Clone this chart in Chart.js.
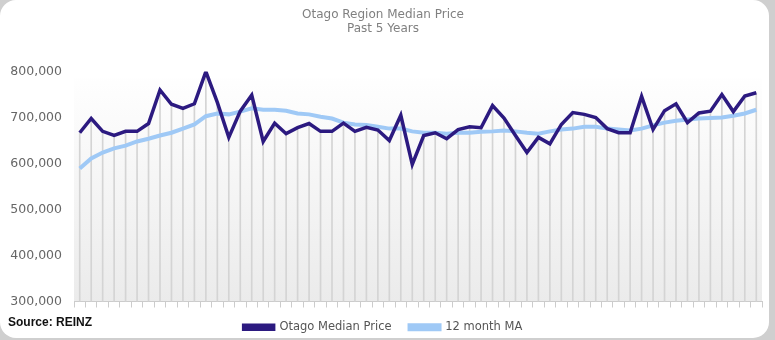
<!DOCTYPE html>
<html>
<head>
<meta charset="utf-8">
<script src="https://cdn.jsdelivr.net/npm/chart.js@4/dist/chart.umd.min.js"></script>
<style>
  html, body { margin: 0; padding: 0; background: #cfcfcf; width: 775px; height: 340px; overflow: hidden; }
  #card { position: absolute; left: 0; top: 0; width: 769px; height: 338px; background: #fff; border-radius: 16px; overflow: hidden; }
  #wrap { position: absolute; left: 0; top: 0; width: 769px; height: 338px; }
  #source { position: absolute; left: 8px; top: 315px; font: bold 12px "Liberation Sans", Arial, sans-serif; color: #111; }
</style>
</head>
<body>
<div id="card">
  <div id="wrap"><canvas id="c" width="769" height="338"></canvas></div>
  <div id="source">Source: REINZ</div>
</div>
<script>
const titleLines = ["Otago Region Median Price", "Past 5 Years"];
const months = ["Jan-19","Feb-19","Mar-19","Apr-19","May-19","Jun-19","Jul-19","Aug-19","Sep-19","Oct-19","Nov-19","Dec-19",
  "Jan-20","Feb-20","Mar-20","Apr-20","May-20","Jun-20","Jul-20","Aug-20","Sep-20","Oct-20","Nov-20","Dec-20",
  "Jan-21","Feb-21","Mar-21","Apr-21","May-21","Jun-21","Jul-21","Aug-21","Sep-21","Oct-21","Nov-21","Dec-21",
  "Jan-22","Feb-22","Mar-22","Apr-22","May-22","Jun-22","Jul-22","Aug-22","Sep-22","Oct-22","Nov-22","Dec-22",
  "Jan-23","Feb-23","Mar-23","Apr-23","May-23","Jun-23","Jul-23","Aug-23","Sep-23","Oct-23","Nov-23","Dec-23"];
const medianPrice = [667000,698000,670000,661000,670000,670000,687000,760000,729000,720000,730000,800000,
  733000,657000,714000,749000,648000,688000,665000,678000,687000,670000,670000,688000,
  670000,679000,673000,650000,705000,598000,661000,667000,654000,674000,680000,678000,
  726000,699000,661000,624000,657000,643000,685000,711000,707000,700000,676000,667000,
  667000,746000,674000,715000,730000,689000,710000,714000,750000,713000,747000,754000];
const movingAvg = [589000,611000,624000,633000,639000,648000,654000,661000,667000,676000,685000,703000,
  709000,707000,713000,720000,717000,717000,715000,709000,707000,702000,698000,689000,
  685000,684000,680000,676000,676000,670000,667000,667000,665000,667000,667000,669000,
  670000,672000,670000,667000,665000,670000,674000,676000,680000,680000,676000,674000,
  672000,676000,683000,689000,693000,696000,698000,699000,700000,704000,709000,717000];
const yTicks = [300000,400000,500000,600000,700000,800000];

const plotBg = {
  id: 'plotBg',
  beforeDraw(chart) {
    const {ctx, chartArea: a} = chart;
    const g = ctx.createLinearGradient(0, a.top, 0, a.bottom);
    g.addColorStop(0, '#ffffff');
    g.addColorStop(1, '#ebebeb');
    ctx.save();
    ctx.fillStyle = g;
    ctx.fillRect(a.left, a.top + 6, a.right - a.left, a.bottom - a.top - 6);
    ctx.restore();
  }
};

new Chart(document.getElementById('c'), {
  type: 'line',
  data: {
    labels: months,
    datasets: [
      { type: 'line', label: 'Otago Median Price', data: medianPrice, borderColor: '#2c1a80', backgroundColor: '#2c1a80',
        borderWidth: 3.5, pointRadius: 0, tension: 0, fill: false, order: 1 },
      { type: 'line', label: '12 month MA', data: movingAvg, borderColor: '#9fc9f6', backgroundColor: '#9fc9f6',
        borderWidth: 4, pointRadius: 0, tension: 0, fill: false, order: 2 },
      { type: 'bar', label: 'drop', data: medianPrice, backgroundColor: '#d4d4d4', barThickness: 1, order: 3 }
    ]
  },
  options: {
    responsive: false,
    animation: false,
    layout: { padding: { left: 4, right: 7, top: 0, bottom: -5 } },
    plugins: {
      title: { display: true, text: titleLines, color: '#808080', font: { family: 'DejaVu Sans', size: 12, weight: 'normal', lineHeight: 1.15 },
        padding: { top: 8, bottom: 36 } },
      legend: { position: 'bottom', labels: { filter: (item) => item.text !== 'drop', boxWidth: 30, boxHeight: 4,
        color: '#555', font: { family: 'DejaVu Sans', size: 11.5 }, padding: 18 } },
      tooltip: { enabled: false }
    },
    scales: {
      x: {
        offset: true,
        afterFit: (s) => { s.height -= 4; },
        grid: { display: true, offset: true, drawOnChartArea: false, drawTicks: true, tickLength: 6, color: '#cccccc' },
        border: { display: true, color: '#cccccc' },
        ticks: { display: false }
      },
      y: {
        min: 300000, max: 800000,
        afterBuildTicks: (s) => { s.ticks = yTicks.map(v => ({ value: v })); },
        afterFit: (s) => { s.width = 70; },
        grid: { display: false, drawTicks: false },
        border: { display: false },
        ticks: { color: '#666', font: { family: 'DejaVu Sans', size: 12.5 }, padding: 12,
          callback: (v) => v.toLocaleString('en-US') }
      }
    }
  },
  plugins: [plotBg]
});
</script>
</body>
</html>
